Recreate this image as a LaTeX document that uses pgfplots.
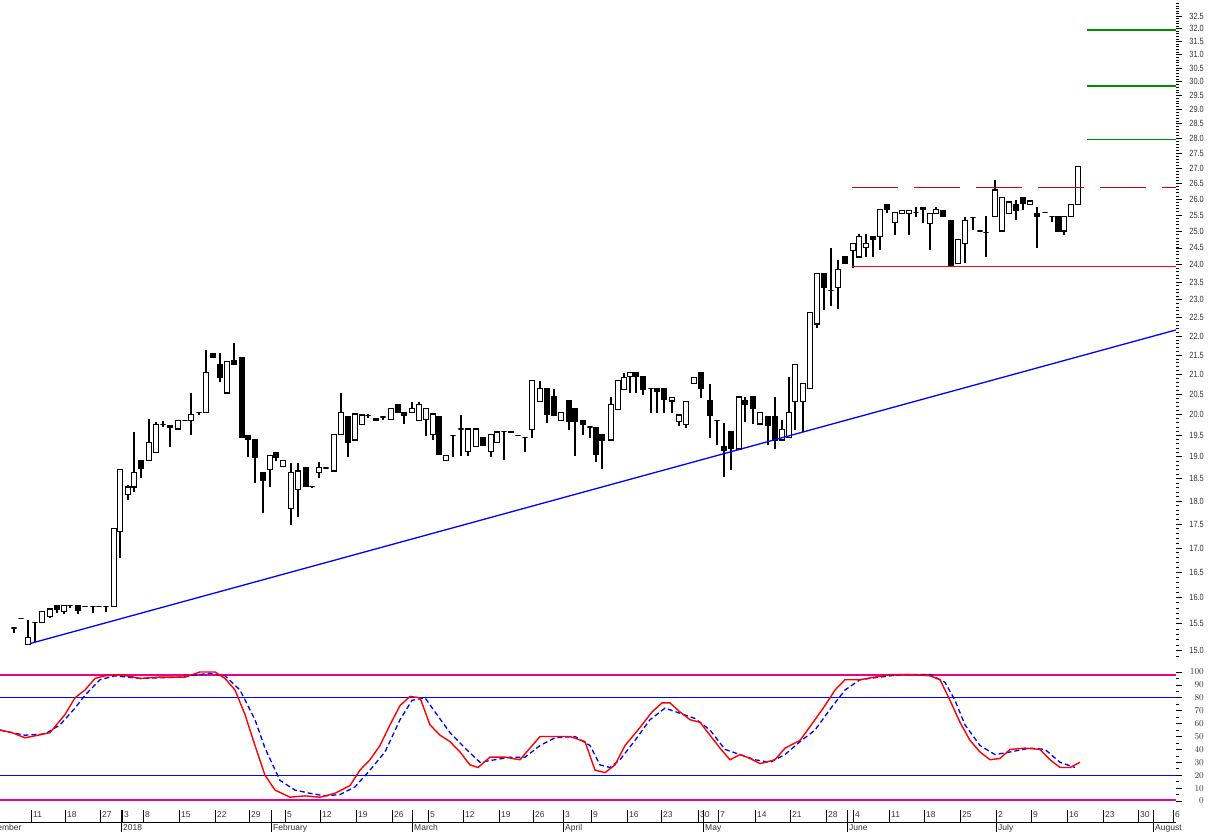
\documentclass[border=0pt]{standalone}
\usepackage{pgfplots}
\usepackage{pgfplotstable}
\pgfplotsset{compat=1.18}
\usepackage{fontspec}
\setmainfont{Liberation Sans}
\newfontfamily\narrowfont[FakeStretch=0.82]{Liberation Sans}

% candles: x position (chart units), open, high, low, close
\pgfplotstableread{
x o h l c
14 15.42 15.42 15.33 15.42
21 15.60 15.60 15.60 15.60
28 15.11 15.57 15.11 15.24
35 15.53 15.53 15.16 15.53
42 15.53 15.73 15.53 15.73
50 15.63 15.78 15.60 15.78
57 15.84 15.84 15.71 15.78
64 15.73 15.84 15.69 15.84
70 15.84 15.84 15.80 15.84
78 15.84 15.84 15.68 15.76
85 15.82 15.82 15.82 15.82
93 15.82 15.82 15.71 15.82
99 15.82 15.82 15.82 15.82
106 15.82 15.82 15.73 15.82
114 15.82 17.40 15.82 17.40
120 17.34 18.70 16.80 18.70
128 18.14 18.35 18.02 18.31
134 18.31 19.58 18.20 18.63
141 18.90 18.90 18.51 18.74
149 18.92 19.89 18.92 19.32
156 19.09 19.82 19.09 19.75
163 19.75 19.85 19.70 19.75
170 19.73 19.75 19.23 19.70
178 19.65 19.85 19.65 19.85
185 19.85 19.85 19.85 19.85
191 19.85 20.53 19.51 20.00
199 20.05 20.05 19.99 20.05
206 20.04 21.64 20.04 21.04
213 21.55 21.55 21.45 21.45
220 21.25 21.56 20.81 20.91
227 20.53 21.33 20.53 21.33
234 21.35 21.82 21.25 21.25
242 21.43 21.43 19.46 19.46
248 19.49 19.49 18.99 19.40
255 19.41 19.41 18.40 18.99
263 18.63 18.63 17.74 18.45
270 18.70 19.02 18.31 19.02
276 19.10 19.10 18.90 18.98
283 18.77 18.92 18.77 18.92
291 17.83 18.86 17.48 18.63
298 18.25 18.86 17.66 18.67
306 18.76 18.76 18.33 18.33
312 18.33 18.33 18.30 18.33
319 18.63 18.88 18.51 18.76
326 18.74 18.74 18.74 18.74
334 18.67 19.53 18.67 19.53
341 19.51 20.53 19.51 20.04
348 19.94 19.94 18.99 19.34
355 19.39 20.01 19.39 20.01
362 19.75 19.99 19.75 19.99
368 19.97 20.02 19.92 19.97
376 19.90 19.90 19.85 19.85
383 19.94 19.94 19.87 19.94
391 19.87 20.14 19.87 20.14
398 20.24 20.24 20.04 20.04
404 20.04 20.04 19.77 19.97
412 20.04 20.31 20.04 20.14
419 19.85 20.31 19.85 20.24
426 19.87 20.14 19.49 20.14
433 19.51 20.01 19.39 20.01
439 19.94 19.94 19.04 19.04
446 18.90 19.02 18.90 19.02
453 19.49 19.49 18.99 19.49
461 19.65 19.99 19.02 19.65
468 19.11 19.65 19.02 19.65
476 19.23 19.65 19.23 19.65
483 19.44 19.44 19.27 19.27
491 19.11 19.53 18.99 19.53
497 19.32 19.58 19.32 19.58
504 19.60 19.60 18.92 19.60
511 19.58 19.58 19.56 19.56
518 19.49 19.49 19.49 19.49
525 19.46 19.46 19.11 19.46
532 19.63 20.84 19.44 20.84
540 20.31 20.84 20.31 20.64
547 20.64 20.64 19.80 20.01
554 20.43 20.64 19.99 19.99
561 19.85 20.04 19.85 20.04
569 20.33 20.33 19.63 19.82
575 20.14 20.14 19.02 19.82
583 19.85 19.85 19.51 19.75
590 19.70 19.70 19.44 19.70
596 19.68 19.68 18.88 19.04
602 19.51 19.51 18.72 19.39
611 19.39 20.43 19.39 20.24
618 20.11 20.84 20.11 20.84
624 20.61 21.04 20.61 20.91
630 20.94 21.04 20.53 21.04
636 21.04 21.04 20.53 20.94
643 20.94 20.94 20.48 20.61
651 20.64 20.64 20.04 20.64
657 20.64 20.64 20.04 20.56
664 20.64 20.64 20.04 20.36
672 20.33 20.41 20.04 20.41
679 19.82 19.99 19.72 19.99
686 19.75 20.31 19.68 20.31
694 20.76 20.91 20.76 20.91
701 21.04 21.04 20.41 20.64
710 20.33 20.76 19.44 19.97
717 19.85 19.85 19.27 19.85
724 19.23 19.80 18.54 19.14
731 19.58 19.58 18.70 19.20
739 19.18 20.43 19.18 20.43
745 20.33 20.43 19.82 20.24
753 20.43 20.43 19.77 20.14
760 19.77 20.04 19.77 20.04
768 19.94 19.94 19.27 19.73
775 19.94 20.43 19.18 19.39
782 19.39 19.87 19.39 19.63
789 19.46 20.94 19.46 20.04
795 20.31 21.25 19.63 21.25
803 20.31 20.76 19.58 20.76
810 20.64 22.64 20.64 22.64
817 22.33 23.74 22.22 23.74
824 23.74 23.74 22.72 23.34
831 23.25 24.50 22.83 23.25
838 23.34 24.14 22.75 23.85
845 24.23 24.23 24.03 24.03
853 24.41 24.62 23.91 24.62
859 24.23 24.92 24.23 24.83
866 24.50 24.92 24.23 24.62
873 24.83 24.83 24.23 24.74
880 24.83 25.66 24.44 25.66
887 25.82 25.82 25.57 25.66
895 25.26 25.57 24.89 25.57
902 25.54 25.63 25.54 25.63
909 25.54 25.63 24.89 25.63
916 25.57 25.76 25.43 25.57
923 25.73 25.73 25.26 25.66
930 25.23 25.54 24.44 25.54
936 25.54 25.76 25.54 25.66
943 25.63 25.63 25.45 25.45
951 25.32 25.32 23.94 23.94
958 24.03 24.74 24.03 24.74
965 24.62 25.45 24.06 25.32
973 25.41 25.41 25.04 25.41
980 25.01 25.01 25.01 25.01
986 24.95 25.48 24.23 24.95
995 25.45 26.62 25.45 26.29
1002 25.01 26.04 25.01 26.04
1009 25.54 25.91 25.54 25.91
1016 25.82 25.97 25.35 25.63
1023 26.04 26.04 25.66 25.85
1030 25.82 25.94 25.82 25.94
1037 25.54 25.76 24.50 25.45
1045 25.57 25.57 25.57 25.57
1052 25.45 25.45 25.29 25.45
1058 25.45 25.45 25.01 25.01
1064 25.01 25.45 24.89 25.45
1071 25.45 25.82 25.45 25.82
1078 25.82 27.04 25.82 27.04
}\ohlc

% stochastic %K (solid red)
\pgfplotstableread{
x v
0 55
12 53
25 49
38 51
50 53
65 67
75 80
85 86
95 95
105 97
120 98
140 95
160 96
185 96
200 100
215 100
225 95
235 86
245 67
255 43
265 20
275 8.5
290 3
305 4
320 3
335 6
350 12
360 24
370 32
380 43
390 59
400 74
410 81
420 80
430 59
440 51
450 46
460 38
470 28
478 26
490 34
505 34
520 32
540 50
555 50
570 50
585 46
595 24
605 22
615 28
625 43
640 57
652 69
662 76
670 76
680 69
690 63
700 61
710 51
720 41
730 32
740 36
750 33
760 29
775 32
785 41
800 47
815 63
825 74
835 86
845 94
860 94
875 96
890 98
910 98
930 97
940 94
950 78
960 61
970 47
980 38
990 32
1000 33
1010 40
1025 41
1040 40
1050 32
1060 26
1070 26
1080 30
}\stochk

% stochastic %D (dashed blue)
\pgfplotstableread{
x v
0 55
12 53
25 51
45 52
60 59
75 72
85 82
100 94
115 97
140 95
180 96
210 99
225 97
240 86
255 63
265 41
280 16
295 8.5
310 6
325 4
340 5
355 11
370 24
385 38
400 63
412 78
425 80
435 69
450 53
465 41
480 30
495 32
510 34
525 34
540 43
555 49
575 50
590 43
600 28
610 26
620 32
635 47
650 63
665 72
680 68
695 64
710 55
725 40
740 36
755 32
770 30
785 36
800 46
815 55
830 71
845 86
860 94
880 96
900 98
930 98
945 92
955 78
965 59
980 43
995 36
1010 38
1030 41
1045 40
1060 30
1075 26
}\stochd

\definecolor{lvlred}{RGB}{210,0,0}
\definecolor{lvlgreen}{RGB}{0,140,0}
\definecolor{lvlblue}{RGB}{0,0,255}

\begin{document}
\begin{tikzpicture}
\pgfplotsset{
  chartfont/.style={font=\fontsize{8.5}{10}\selectfont},
  valfont/.style={font=\narrowfont\fontsize{9}{10}\selectfont},
  candle/.style={black, line width=1.1pt, line join=miter},
}
% ---------------- price panel ----------------
\begin{axis}[
  at={(-30pt,0pt)}, anchor=north west,
  scale only axis, width=1206pt, height=660pt,
  xmin=-30, xmax=1176,
  ymode=log, ymin=14.83, ymax=33.14,
  axis x line=none, axis y line*=right,
  y axis line style={draw=none},
  xtick=\empty,
  ytick={15,15.5,16,16.5,17,17.5,18,18.5,19,19.5,20,20.5,21,21.5,22,22.5,23,23.5,24,24.5,25,25.5,26,26.5,27,27.5,28,28.5,29,29.5,30,30.5,31,31.5,32,32.5},
  yticklabels={15.0,15.5,16.0,16.5,17.0,17.5,18.0,18.5,19.0,19.5,20.0,20.5,21.0,21.5,22.0,22.5,23.0,23.5,24.0,24.5,25.0,25.5,26.0,26.5,27.0,27.5,28.0,28.5,29.0,29.5,30.0,30.5,31.0,31.5,32.0,32.5},
  minor ytick={14.9,15.0,...,33.1},
  tick align=outside, major tick length=6pt, minor tick length=3pt,
  every tick/.style={black, line width=0.7pt},
  yticklabel style={valfont, anchor=east, inner sep=0pt, xshift=22pt, text=black!80},
]
\pgfplotstablegetrowsof{\ohlc}
\pgfmathtruncatemacro{\lastrow}{\pgfplotsretval-1}
\pgfplotsforeachungrouped \i in {0,...,\lastrow}{%
  \pgfplotstablegetelem{\i}{x}\of\ohlc\let\cx\pgfplotsretval
  \pgfplotstablegetelem{\i}{o}\of\ohlc\let\co\pgfplotsretval
  \pgfplotstablegetelem{\i}{h}\of\ohlc\let\ch\pgfplotsretval
  \pgfplotstablegetelem{\i}{l}\of\ohlc\let\cl\pgfplotsretval
  \pgfplotstablegetelem{\i}{c}\of\ohlc\let\cc\pgfplotsretval
  \pgfmathsetmacro{\xa}{\cx-2.6}%
  \pgfmathsetmacro{\xb}{\cx+2.6}%
  \ifdim\cc pt<\co pt \def\fc{black}\else\def\fc{white}\fi
  \edef\temp{%
    \noexpand\addplot[candle, forget plot] coordinates {(\cx,\cl) (\cx,\ch)};
    \noexpand\addplot[candle, fill=\fc, forget plot] coordinates {(\xa,\co) (\xb,\co) (\xb,\cc) (\xa,\cc)} -- cycle;
  }%
  \temp
}
% trend line and levels
\addplot[lvlblue, line width=1.3pt] coordinates {(30,15.13) (1176,22.17)};
\addplot[red, line width=1.1pt] coordinates {(852,23.95) (1176,23.95)};
\addplot[lvlred, line width=1.2pt, dash pattern=on 46pt off 16pt] coordinates {(852,26.36) (1176,26.36)};
\addplot[lvlgreen, line width=1.2pt] coordinates {(1087,27.97) (1176,27.97)};
\addplot[lvlgreen, line width=1.2pt] coordinates {(1087,29.84) (1176,29.84)};
\addplot[lvlgreen, line width=1.2pt] coordinates {(1087,31.95) (1176,31.95)};
\end{axis}

% ---------------- stochastic panel ----------------
\begin{axis}[
  at={(-30pt,-665.5pt)}, anchor=north west,
  scale only axis, width=1206pt, height=142pt,
  xmin=-30, xmax=1176, ymin=-5, ymax=105,
  axis x line=none, axis y line*=right,
  y axis line style={draw=none},
  xtick=\empty,
  ytick={0,10,...,100},
  minor ytick={5,15,...,95},
  tick align=outside, major tick length=6pt, minor tick length=3pt,
  every tick/.style={black, line width=0.7pt},
  yticklabel style={valfont, anchor=east, inner sep=0pt, xshift=22pt, text=black!80},
]
\addplot[magenta, line width=1.5pt] coordinates {(-30,97.7) (1176,97.7)};
\addplot[magenta, line width=1.5pt] coordinates {(-30,1) (1176,1)};
\addplot[lvlblue, line width=1.2pt] coordinates {(-30,80.5) (1176,80.5)};
\addplot[lvlblue, line width=1.2pt] coordinates {(-30,19.5) (1176,19.5)};
\addplot[lvlblue, line width=1.3pt, dash pattern=on 5pt off 3pt] table[x=x, y=v] {\stochd};
\addplot[red, line width=1.4pt] table[x=x, y=v] {\stochk};
\end{axis}

% ---------------- date axis ----------------
\begin{axis}[
  at={(-30pt,-822pt)}, anchor=south west,
  scale only axis, width=1206pt, height=12pt,
  xmin=-30, xmax=1176, ymin=0, ymax=1,
  axis x line*=bottom, axis y line=none,
  x axis line style={black, line width=0.8pt},
  ytick=\empty,
  tick align=inside, major tick length=12pt,
  every tick/.style={black, line width=0.8pt},
  xtick={31,65,100,122,143,179,215,249,285,320,356,392,428,463,499,533,563,591,627,661,698,718,755,790,826,853,889,924,960,996,1031,1067,1103,1138,1173},
  xticklabels={11,18,27,3,8,15,22,29,5,12,19,26,5,12,19,26,3,9,16,23,30,7,14,21,28,4,11,18,25,2,9,16,23,30,6},
  xticklabel style={chartfont, anchor=south west, inner sep=0pt, xshift=2pt, yshift=4pt, text=black!80},
  extra x ticks={-20,121,271,412,563,703,847,996,1153},
  extra x tick labels={December,2018,February,March,April,May,June,July,August},
  extra x tick style={tick align=outside, major tick length=10pt, grid=major,
    major grid style={black, line width=0.8pt},
    xticklabel style={anchor=north west, yshift=4pt}},
]
\end{axis}

\pgfresetboundingbox
\path[use as bounding box] (0pt,0pt) rectangle (1208pt,-832pt);
\end{tikzpicture}
\end{document}
